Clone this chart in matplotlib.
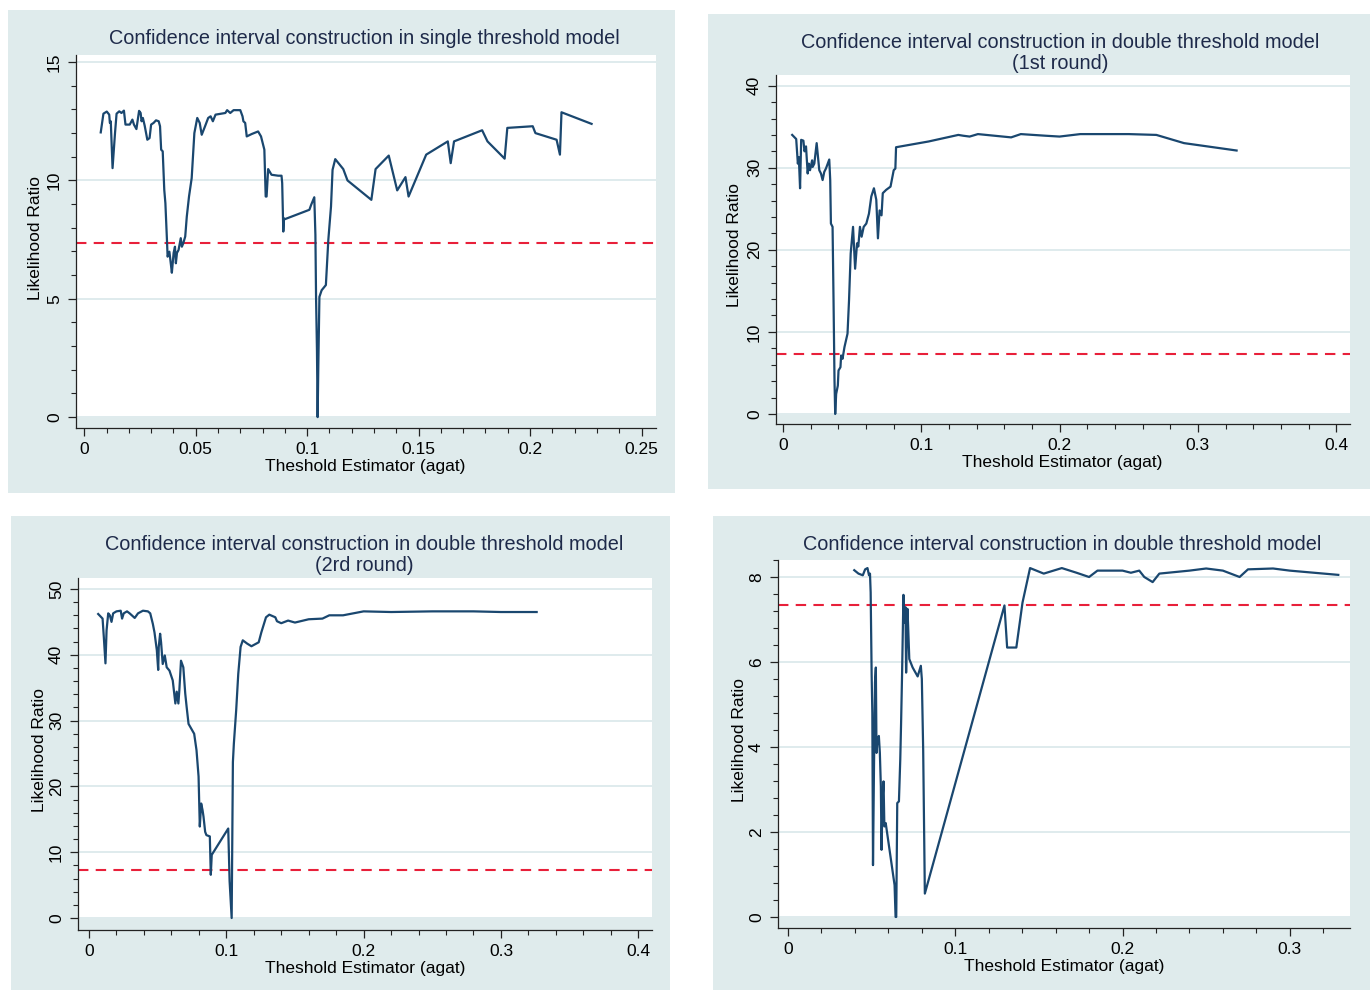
import numpy as np
import matplotlib.pyplot as plt
from matplotlib.patches import Rectangle
from matplotlib.ticker import AutoMinorLocator

plt.rcParams['font.family'] = ['Liberation Sans', 'DejaVu Sans']

W, H = 1370, 990
BG = '#dfebec'
GRID = '#dce9ec'
NAVY = '#1a476f'
RED = '#e8203a'
CRIT = 7.35

# ---- data ----
# single threshold model
x1 = [0.0074, 0.0086, 0.0101, 0.0112, 0.0115, 0.0119, 0.0127, 0.0138, 0.0145, 0.0157, 0.0167, 0.0178,
      0.0185, 0.0204, 0.0216, 0.0223, 0.0234, 0.0246, 0.0253, 0.0257, 0.0263, 0.0271, 0.0283, 0.0293,
      0.0300, 0.0311, 0.0322, 0.0334, 0.0340, 0.0345, 0.0352, 0.0359, 0.0364, 0.0371, 0.0374, 0.0382,
      0.0389, 0.0393, 0.0401, 0.0407, 0.0411, 0.0416, 0.0423, 0.0433, 0.0438, 0.0444, 0.0453, 0.0460,
      0.0470, 0.0482, 0.0494, 0.0507, 0.0518, 0.0527, 0.0542, 0.0556, 0.0567, 0.0577, 0.0589, 0.0633,
      0.0641, 0.0655, 0.0670, 0.0700, 0.0710, 0.0714, 0.0722, 0.0729, 0.0751, 0.0780, 0.0793, 0.0808,
      0.0814, 0.0818, 0.0825, 0.0840, 0.0870, 0.0885, 0.0888, 0.0893, 0.0896, 0.0899, 0.1010, 0.1018,
      0.1032, 0.1037, 0.1040, 0.1044, 0.1047, 0.1050, 0.1055, 0.1065, 0.1084, 0.1095, 0.1107, 0.1114,
      0.1126, 0.1162, 0.1181, 0.1288, 0.1307, 0.1366, 0.1404, 0.1441, 0.1455, 0.1534, 0.1631, 0.1644,
      0.1659, 0.1785, 0.1809, 0.1886, 0.1898, 0.2012, 0.2024, 0.2119, 0.2134, 0.2141, 0.2276]
y1 = [12.03, 12.82, 12.91, 12.78, 12.43, 12.50, 10.52, 12.00, 12.82, 12.92, 12.85, 12.95,
      12.36, 12.36, 12.57, 12.36, 12.17, 12.94, 12.85, 12.50, 12.64, 12.32, 11.72, 11.79,
      12.36, 12.43, 12.54, 12.50, 12.29, 11.30, 11.23, 9.60, 9.04, 7.49, 6.78, 6.99,
      6.43, 6.10, 6.94, 7.20, 6.50, 6.94, 7.06, 7.56, 7.20, 7.34, 7.63, 8.47,
      9.32, 10.10, 12.00, 12.64, 12.43, 11.93, 12.29, 12.64, 12.71, 12.50, 12.78, 12.85,
      12.97, 12.85, 12.97, 12.97, 12.71, 12.50, 12.43, 11.86, 11.96, 12.07, 11.86, 11.30,
      9.32, 9.32, 10.48, 10.24, 10.20, 10.20, 9.89, 7.84, 8.40, 8.36, 8.76, 8.97,
      9.29, 7.70, 5.01, 2.82, 0.00, 2.12, 5.08, 5.36, 5.58, 7.49, 8.90, 10.45,
      10.90, 10.48, 10.00, 9.18, 10.48, 11.05, 9.58, 10.14, 9.32, 11.09, 11.65, 10.73,
      11.65, 12.12, 11.65, 10.92, 12.22, 12.29, 12.00, 11.72, 11.09, 12.88, 12.39]

# double threshold model, 1st round
x2 = [0.0067, 0.0096, 0.0108, 0.0115, 0.0124, 0.0132, 0.0148, 0.0156, 0.0167, 0.0179, 0.0187, 0.0196,
      0.0211, 0.0215, 0.0227, 0.0244, 0.0256, 0.0263, 0.0275, 0.0287, 0.0299, 0.0311, 0.0335, 0.0342,
      0.0347, 0.0359, 0.0366, 0.0373, 0.0378, 0.0385, 0.0397, 0.0402, 0.0416, 0.0421, 0.0431, 0.0445,
      0.0467, 0.0478, 0.0490, 0.0507, 0.0522, 0.0536, 0.0545, 0.0557, 0.0569, 0.0584, 0.0603, 0.0622,
      0.0639, 0.0658, 0.0675, 0.0687, 0.0699, 0.0713, 0.0722, 0.0746, 0.0778, 0.0801, 0.0813, 0.0818,
      0.1053, 0.1268, 0.1304, 0.1350, 0.1410, 0.1650, 0.1720, 0.1900, 0.2000, 0.2150, 0.2500, 0.2700,
      0.2800, 0.2900, 0.3280]
y2 = [34.0, 33.5, 30.5, 31.3, 27.5, 33.4, 33.3, 32.0, 32.6, 29.3, 30.5, 29.7,
      30.9, 30.1, 30.5, 33.0, 30.9, 29.7, 29.3, 28.5, 29.5, 29.9, 31.0, 28.5,
      23.2, 22.8, 13.85, 4.07, 0.0, 2.44, 3.46, 5.30, 5.70, 7.13, 6.72, 8.15,
      9.78, 13.85, 19.55, 22.8, 17.7, 20.8, 20.4, 22.8, 21.6, 22.8, 23.2, 24.4,
      26.5, 27.5, 26.1, 21.4, 24.8, 24.2, 26.9, 27.3, 27.7, 29.7, 29.9, 32.5,
      33.2, 34.0, 33.9, 33.8, 34.1, 33.7, 34.1, 33.9, 33.8, 34.1, 34.1, 34.0,
      33.5, 33.0, 32.1]

# double threshold model, 2nd round
x3 = [0.0067, 0.0099, 0.0108, 0.0120, 0.0128, 0.0140, 0.0152, 0.0164, 0.0176, 0.0200, 0.0231, 0.0241,
      0.0253, 0.0277, 0.0296, 0.0333, 0.0357, 0.0393, 0.0429, 0.0446, 0.0465, 0.0477, 0.0494, 0.0504,
      0.0508, 0.0518, 0.0525, 0.0537, 0.0552, 0.0566, 0.0586, 0.0610, 0.0629, 0.0639, 0.0651, 0.0658,
      0.0670, 0.0687, 0.0701, 0.0711, 0.0725, 0.0766, 0.0783, 0.0798, 0.0807, 0.0817, 0.0827, 0.0834,
      0.0846, 0.0855, 0.0880, 0.0887, 0.0894, 0.1014, 0.1024, 0.1039, 0.1048, 0.1055, 0.1072, 0.1087,
      0.1104, 0.1120, 0.1152, 0.1183, 0.1236, 0.1255, 0.1289, 0.1313, 0.1357, 0.1369, 0.1400, 0.1450,
      0.1500, 0.1600, 0.1700, 0.1750, 0.1850, 0.2000, 0.2200, 0.2500, 0.2800, 0.3000, 0.3260]
y3 = [46.2, 45.5, 42.7, 38.7, 43.7, 46.3, 46.0, 45.0, 46.3, 46.6, 46.7, 45.5,
      46.3, 46.6, 46.3, 45.6, 46.3, 46.7, 46.6, 46.3, 44.7, 43.4, 40.7, 37.7,
      41.2, 43.2, 41.9, 38.6, 39.9, 38.1, 37.6, 36.1, 32.6, 34.4, 32.6, 34.6,
      39.1, 38.1, 34.1, 32.1, 29.5, 28.0, 25.5, 21.5, 13.9, 17.4, 16.4, 15.4,
      13.1, 12.6, 12.4, 6.57, 9.6, 13.6, 5.6, 0.0, 23.7, 26.5, 31.6, 37.1,
      41.2, 42.2, 41.7, 41.3, 41.9, 43.4, 45.7, 46.1, 45.7, 45.1, 44.8, 45.2,
      44.9, 45.4, 45.5, 46.0, 46.0, 46.6, 46.5, 46.6, 46.6, 46.5, 46.5]

# double threshold model (final)
x4 = [0.0396, 0.0421, 0.0447, 0.0461, 0.0475, 0.0484, 0.0490, 0.0494, 0.0500, 0.0504, 0.0508, 0.0514,
      0.0520, 0.0525, 0.0529, 0.0535, 0.0543, 0.0549, 0.0555, 0.0559, 0.0565, 0.0571, 0.0576, 0.0584,
      0.0637, 0.0643, 0.0647, 0.0653, 0.0663, 0.0671, 0.0676, 0.0682, 0.0690, 0.0696, 0.0702, 0.0706,
      0.0714, 0.0718, 0.0725, 0.0745, 0.0775, 0.0794, 0.0800, 0.0808, 0.0818, 0.1294, 0.1310, 0.1365,
      0.1402, 0.1447, 0.1529, 0.1637, 0.1725, 0.1800, 0.1850, 0.2000, 0.2050, 0.2100, 0.2130, 0.2180,
      0.2220, 0.2400, 0.2500, 0.2600, 0.2700, 0.2750, 0.2900, 0.3000, 0.3290]
y4 = [8.16, 8.08, 8.04, 8.18, 8.21, 8.04, 8.08, 7.64, 5.67, 4.80, 1.22, 3.55,
      5.52, 5.87, 3.86, 4.18, 4.26, 3.86, 3.07, 1.58, 2.76, 3.19, 2.13, 2.21,
      0.75, 0.00, 0.00, 2.68, 2.72, 3.70, 4.57, 5.75, 7.58, 6.93, 7.29, 5.75,
      7.25, 6.85, 6.07, 5.87, 5.66, 5.91, 5.60, 3.94, 0.55, 7.33, 6.34, 6.34,
      7.40, 8.21, 8.08, 8.21, 8.10, 8.00, 8.15, 8.15, 8.10, 8.15, 8.00, 7.88,
      8.08, 8.15, 8.20, 8.15, 8.00, 8.18, 8.20, 8.15, 8.05]

titles = ['Confidence interval construction in single threshold model',
          'Confidence interval construction in double threshold model\n(1st round)',
          'Confidence interval construction in double threshold model\n(2rd round)',
          'Confidence interval construction in double threshold model']
xlabel = 'Theshold Estimator (agat)'
ylabel = 'Likelihood Ratio'

# ---- layout (pixels) ----
panels = [
    dict(x=x1, y=y1, bg=(8, 10, 675, 493), ax=(76, 55, 656, 428), xlim=(-0.0037, 0.2565), ylim=(-0.46, 15.3),
         xstep=0.05, ystep=5, yticks_max=15, xfmt=['0', '0.05', '0.1', '0.15', '0.2', '0.25'],
         title=(364, 38), xl=(365, 467), yl=(36, 238)),
    dict(x=x2, y=y2, bg=(708, 14, 1370, 489), ax=(776, 75, 1350, 424), xlim=(-0.005, 0.41), ylim=(-1.22, 41.3),
         xstep=0.1, ystep=10, yticks_max=40, xfmt=['0', '0.1', '0.2', '0.3', '0.4'],
         title=(1060, 53), xl=(1062, 463), yl=(735, 245)),
    dict(x=x3, y=y3, bg=(11, 516, 670, 990), ax=(78, 578, 652, 930), xlim=(-0.008, 0.41), ylim=(-1.82, 51.67),
         xstep=0.1, ystep=10, yticks_max=50, xfmt=['0', '0.1', '0.2', '0.3', '0.4'],
         title=(364, 555), xl=(365, 969), yl=(40, 750)),
    dict(x=x4, y=y4, bg=(713, 516, 1370, 990), ax=(778, 560, 1350, 928), xlim=(-0.006, 0.336), ylim=(-0.26, 8.4),
         xstep=0.1, ystep=2, yticks_max=8, xfmt=['0', '0.1', '0.2', '0.3'],
         title=(1062, 545), xl=(1064, 967), yl=(740, 740)),
]


def fx(px):
    return px / W


def fy(py):
    return 1 - py / H


fig = plt.figure(figsize=(W / 100, H / 100), dpi=100, facecolor='white')

for p in panels:
    l, t, r, b = p['bg']
    fig.patches.append(Rectangle((fx(l), fy(b)), (r - l) / W, (b - t) / H, transform=fig.transFigure,
                                 facecolor=BG, edgecolor='none', zorder=-10))
    l, t, r, b = p['ax']
    ax = fig.add_axes([fx(l), fy(b), (r - l) / W, (b - t) / H])
    ax.set_zorder(1)
    ax.set_facecolor(BG)
    ax.set_xlim(*p['xlim'])
    ax.set_ylim(*p['ylim'])
    # white plot region, from y=0 up
    ax.axhspan(0 - (p['ylim'][1] - p['ylim'][0]) * 0.003, p['ylim'][1], color='white', zorder=0, lw=0)

    for s in ['top', 'right']:
        ax.spines[s].set_visible(False)
    for s in ['left', 'bottom']:
        ax.spines[s].set_color('#222222')
        ax.spines[s].set_linewidth(0.9)

    xt = np.arange(len(p['xfmt'])) * p['xstep']
    ax.set_xticks(xt)
    ax.set_xticklabels(p['xfmt'])
    yt = np.arange(0, p['yticks_max'] + 1e-9, p['ystep'])
    ax.set_yticks(yt)
    ax.set_yticklabels([f'{v:g}' for v in yt], rotation=90, va='center')
    ax.xaxis.set_minor_locator(AutoMinorLocator(5))
    ax.yaxis.set_minor_locator(AutoMinorLocator(5))
    ax.tick_params(which='major', length=6, width=0.9, labelsize=12.5, color='#222222', pad=4)
    ax.tick_params(which='minor', length=3.5, width=0.8, color='#222222')

    ax.set_axisbelow(True)
    ax.yaxis.grid(True, which='major', color=GRID, lw=1.3)

    ax.axhline(CRIT, color=RED, lw=1.5, ls=(0, (5, 3.5)), zorder=2)
    ax.plot(p['x'], p['y'], color=NAVY, lw=1.6, zorder=3)

for p, title in zip(panels, titles):
    tx, ty = p['title']
    fig.text(fx(tx), fy(ty), title, ha='center', va='center', fontsize=14.3, color='#1e2a4a', linespacing=1.1)
    fig.text(fx(p['xl'][0]), fy(p['xl'][1]), xlabel, ha='center', va='center', fontsize=12.5, color='black')
    fig.text(fx(p['yl'][0]), fy(p['yl'][1]), ylabel, ha='center', va='center', fontsize=12.5,
             color='black', rotation=90)

fig.savefig('out.png', dpi=100, facecolor='white')
